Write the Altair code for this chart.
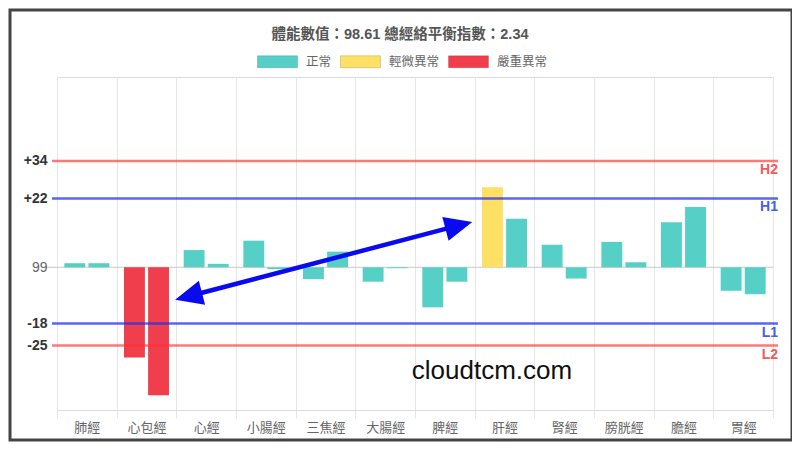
import altair as alt
import pandas as pd

FONT = "Liberation Sans, Arial, Helvetica, Noto Sans CJK TC, sans-serif"

categories = ["肺經", "心包經", "心經", "小腸經", "三焦經", "大腸經",
              "脾經", "肝經", "腎經", "膀胱經", "膽經", "胃經"]
left_vals = [1.3, -28.8, 5.5, 8.5, -3.8, -4.6, -12.8, 25.6, 7.2, 8.1, 14.4, -7.5]
right_vals = [1.3, -40.9, 1.1, -0.6, 5.0, -0.3, -4.6, 15.5, -3.6, 1.6, 19.3, -8.6]

statuses = ["正常", "輕微異常", "嚴重異常"]
status_colors = ["#56cfc6", "#fde064", "#f03e4c"]

line_names = ["H2", "H1", "L1", "L2"]
line_vals = [34, 22, -18, -25]
line_kind = ["outer", "inner", "inner", "outer"]

tick_vals = [34, 22, 0, -18, -25]

# arrow annotation (category-index units on x, value units on y)
arrow_x = [2.175, 6.765]
arrow_y = [-9.43, 13.53]
tip_left = (1.98, -10.4)
tip_right = (6.96, 14.5)

title_text = "體能數值：98.61 總經絡平衡指數：2.34"


def classify(v):
    if v > 34 or v < -25:
        return "嚴重異常"
    if v > 22 or v < -18:
        return "輕微異常"
    return "正常"


rows = []
for c, a, b in zip(categories, left_vals, right_vals):
    rows.append({"cat": c, "s": "A", "v": a, "status": classify(a)})
    rows.append({"cat": c, "s": "B", "v": b, "status": classify(b)})
df = pd.DataFrame(rows)

lines_df = pd.DataFrame({"name": line_names, "v": line_vals, "kind": line_kind})

yscale = alt.Scale(domain=[-45.6, 60.8], nice=False, zero=False)
yaxis = alt.Axis(
    values=tick_vals, title=None, grid=False, ticks=False, domain=False,
    labelExpr="datum.value == 0 ? '99' : (datum.value > 0 ? '+' + datum.value : '' + datum.value)",
    labelFontWeight={"condition": {"test": "datum.value == 0", "value": "normal"}, "value": "bold"},
    labelColor={"condition": {"test": "datum.value == 0", "value": "#666"}, "value": "#333"},
    labelFontSize=14, labelPadding=10, labelFont=FONT,
)
yenc = alt.Y("v:Q", scale=yscale, axis=yaxis)

RED = "#ff3030"
BLUE = "#2233ee"

frame = alt.Chart(pd.DataFrame({"k": [0]})).mark_rect(
    filled=False, stroke="#444", strokeWidth=3
).encode(x=alt.value(-47), x2=alt.value(735), y=alt.value(-67), y2=alt.value(363))

zero_rule = alt.Chart(pd.DataFrame({"v": [0]})).mark_rule(
    color="#c8c8c8", strokeWidth=1
).encode(y=yenc, x=alt.value(-10), x2=alt.value(716))

bars = alt.Chart(df).mark_bar().encode(
    x=alt.X("cat:N", sort=categories,
            scale=alt.Scale(paddingInner=0, paddingOuter=0),
            axis=alt.Axis(title=None, tickBand="extent", grid=True, gridColor="#e6e6e6",
                          tickColor="#e6e6e6", tickSize=8, domainColor="#dcdcdc",
                          labelAngle=0, labelFontSize=13, labelColor="#666",
                          labelPadding=3, labelFont=FONT)),
    xOffset=alt.XOffset("s:N", scale=alt.Scale(paddingInner=0.133, paddingOuter=0.305)),
    y=yenc,
    color=alt.Color("status:N", scale=alt.Scale(domain=statuses, range=status_colors),
                    legend=alt.Legend(orient="none", legendX=200, legendY=-36,
                                      direction="horizontal", title=None,
                                      symbolType="M-1,-0.3H1V0.3H-1Z", symbolSize=1600,
                                      symbolStrokeWidth=1, symbolStrokeColor="rgba(0,0,0,0.15)",
                                      labelFontSize=12.5, labelColor="#666", labelFont=FONT,
                                      labelOffset=8, columnPadding=6, padding=0)),
)

outer_rules = alt.Chart(lines_df).transform_filter("datum.kind == 'outer'").mark_rule(
    color=RED, strokeWidth=2.5, opacity=0.65
).encode(y=yenc, x=alt.value(-5), x2=alt.value(721))
inner_rules = alt.Chart(lines_df).transform_filter("datum.kind == 'inner'").mark_rule(
    color=BLUE, strokeWidth=2.5, opacity=0.75
).encode(y=yenc, x=alt.value(-5), x2=alt.value(721))

outer_text = alt.Chart(lines_df).transform_filter("datum.kind == 'outer'").mark_text(
    color="#f25a5a", align="right", baseline="top", dy=2, fontWeight="bold", fontSize=14, font=FONT
).encode(y=yenc, x=alt.value(721), text="name:N")
inner_text = alt.Chart(lines_df).transform_filter("datum.kind == 'inner'").mark_text(
    color="#4a5cf0", align="right", baseline="top", dy=2, fontWeight="bold", fontSize=14, font=FONT
).encode(y=yenc, x=alt.value(721), text="name:N")

ax_scale = alt.Scale(domain=[0, 12])
arrow_line = alt.Chart(pd.DataFrame({"ax": arrow_x, "v": arrow_y})).mark_line(
    color="#0a0af0", strokeWidth=4.5
).encode(x=alt.X("ax:Q", scale=ax_scale, axis=None), y=yenc)

HEAD = "M0,0L0.8,1.8L-0.8,1.8Z"
head_l = alt.Chart(pd.DataFrame({"ax": [tip_left[0]], "v": [tip_left[1]]})).mark_point(
    shape=HEAD, size=950, filled=True, color="#0a0af0", opacity=1, angle=255.3
).encode(x=alt.X("ax:Q", scale=ax_scale, axis=None), y=yenc)
head_r = alt.Chart(pd.DataFrame({"ax": [tip_right[0]], "v": [tip_right[1]]})).mark_point(
    shape=HEAD, size=950, filled=True, color="#0a0af0", opacity=1, angle=75.3
).encode(x=alt.X("ax:Q", scale=ax_scale, axis=None), y=yenc)

watermark = alt.Chart(pd.DataFrame({"t": ["cloudtcm.com"]})).mark_text(
    fontSize=26, color="#111", font=FONT, align="center", baseline="middle"
).encode(x=alt.value(435), y=alt.value(294), text="t:N")

chart = alt.layer(
    frame, zero_rule, bars, outer_rules, inner_rules, outer_text, inner_text,
    arrow_line, head_l, head_r, watermark
).resolve_scale(x="independent").properties(
    width=716, height=333,
    autosize=alt.AutoSizeParams(type="none"),
    padding={"left": 49, "top": 69, "right": 19, "bottom": 34},
    title=alt.Title(title_text, fontSize=14.5, fontWeight="bold", color="#555",
                    anchor="middle", frame="group", dx=-15, offset=-34, font=FONT),
).configure_view(stroke=None).configure(font=FONT, background="white")

chart.save("out.html", embed_options={"renderer": "svg", "actions": False})
